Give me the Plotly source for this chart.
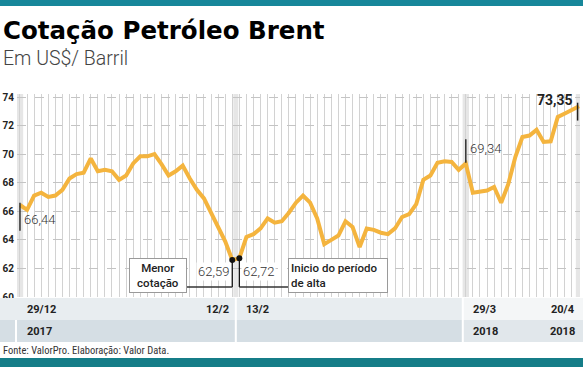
import plotly.graph_objects as go

# ---- data ----
values = [66.44, 66.1, 67.1, 67.3, 67.0, 67.1, 67.5, 68.3, 68.6, 68.7,
          69.7, 68.8, 68.9, 68.8, 68.2, 68.5, 69.35, 69.85, 69.85, 70.0,
          69.3, 68.5, 68.8, 69.2, 68.3, 67.5, 66.9, 65.9, 64.9, 63.9,
          62.59, 62.72, 64.2, 64.4, 64.8, 65.5, 65.2, 65.3, 65.9, 66.6,
          67.1, 66.6, 65.5, 63.7, 64.0, 64.3, 65.3, 64.9, 63.5, 64.8,
          64.7, 64.5, 64.4, 64.8, 65.6, 65.8, 66.5, 68.2, 68.5, 69.4,
          69.5, 69.45, 68.9, 69.34, 67.3, 67.35, 67.45, 67.7, 66.6, 67.9,
          69.8, 71.2, 71.3, 71.7, 70.85, 70.9, 72.6, 72.85, 73.1, 73.35]
idx = list(range(len(values)))

label_idx = [0, 30, 31, 63, 79]
label_text = ["29/12", "12/2", "13/2", "29/3", "20/4"]
year_idx = [0, 63, 79]
year_text = ["2017", "2018", "2018"]
y_ticks = [60, 62, 64, 66, 68, 70, 72, 74]

W, H = 583, 367
L, R, T, B = 17, 580, 94, 297
YMIN, YMAX = 60, 74.21
XMIN, XMAX = -0.42, 79.14

def px_to_paper(px):
    return (px - L) / (R - L)

def py_to_paper(py):
    return (B - py) / (B - T)

def px_to_x(px):
    return XMIN + (px - L) / (R - L) * (XMAX - XMIN)

def py_to_y(py):
    return YMIN + (B - py) / (B - T) * (YMAX - YMIN)

def x_to_px(x):
    return L + (x - XMIN) / (XMAX - XMIN) * (R - L)

LINE = "#F4B43E"
TEAL = "#17879a"

fig = go.Figure()

shapes = []
# highlighted columns
for i in [0, 30.5, 63, 79]:
    w = 0.45 if i != 30.5 else 0.35
    shapes.append(dict(type="rect", xref="x", yref="paper", x0=i - w, x1=i + w,
                       y0=0, y1=1, fillcolor="#e6e6e6", line_width=0, layer="below"))

# top/bottom teal bars
shapes.append(dict(type="rect", xref="paper", yref="paper",
                   x0=px_to_paper(0), x1=px_to_paper(W), y0=py_to_paper(6), y1=py_to_paper(0),
                   fillcolor=TEAL, line_width=0))
shapes.append(dict(type="rect", xref="paper", yref="paper",
                   x0=px_to_paper(0), x1=px_to_paper(W), y0=py_to_paper(367), y1=py_to_paper(358),
                   fillcolor="#157d88", line_width=0))

# bottom rows
sep1 = x_to_px(30.5)
sep2 = x_to_px(63) - 3
rows = [
    (298, 320, [(0, sep2, "#e8edf0"), (sep2, W, "#f4f6f7")]),
    (320, 342, [(0, sep2, "#d5dee4"), (sep2, W, "#e1e7eb")]),
]
for y0, y1, segs in rows:
    for a, b, c in segs:
        shapes.append(dict(type="rect", xref="paper", yref="paper",
                           x0=px_to_paper(a), x1=px_to_paper(b),
                           y0=py_to_paper(y1), y1=py_to_paper(y0),
                           fillcolor=c, line_width=0))
for sx, top in [(16, 320), (sep1, 298), (sep2, 298)]:
    shapes.append(dict(type="line", xref="paper", yref="paper",
                       x0=px_to_paper(sx), x1=px_to_paper(sx),
                       y0=py_to_paper(342), y1=py_to_paper(top),
                       line=dict(color="white", width=2)))

# leader lines
low_y = py_to_y(287)
box1_right = px_to_x(186)
box2_left = px_to_x(288)
shapes += [
    dict(type="line", xref="x", yref="y", x0=30, x1=30, y0=values[30], y1=low_y,
         line=dict(color="#111", width=1.3)),
    dict(type="line", xref="x", yref="y", x0=box1_right, x1=30, y0=low_y, y1=low_y,
         line=dict(color="#333", width=1.3)),
    dict(type="line", xref="x", yref="y", x0=31, x1=31, y0=values[31], y1=low_y,
         line=dict(color="#111", width=1.3)),
    dict(type="line", xref="x", yref="y", x0=31, x1=box2_left, y0=low_y, y1=low_y,
         line=dict(color="#333", width=1.3)),
    # value markers
    dict(type="line", xref="x", yref="y", x0=0, x1=0, y0=values[0] + 0.15, y1=values[0] - 1.8,
         line=dict(color="#333", width=1.5)),
    dict(type="line", xref="x", yref="y", x0=63, x1=63, y0=values[63] + 1.7, y1=values[63] + 0.05,
         line=dict(color="#333", width=1.5)),
    dict(type="line", xref="x", yref="y", x0=79 - 0.2, x1=79 - 0.2, y0=values[79] + 0.25,
         y1=values[79] - 1.0, line=dict(color="#222", width=1.5)),
]

fig.add_trace(go.Scatter(x=idx, y=values, mode="lines",
                         line=dict(color=LINE, width=4), hoverinfo="skip"))
fig.add_trace(go.Scatter(x=[30, 31], y=[values[30], values[31]], mode="markers",
                         marker=dict(color="#111", size=6), hoverinfo="skip"))

ann = []
FONT = "Roboto"
# title & subtitle
ann.append(dict(text="<b>Cotação Petróleo Brent</b>", xref="paper", yref="paper",
                x=px_to_paper(1), y=py_to_paper(47), xanchor="left", yanchor="bottom",
                showarrow=False, font=dict(family="DejaVu Sans", size=24.5, color="#000", weight=900)))
ann.append(dict(text="Em US$/ Barril", xref="paper", yref="paper",
                x=px_to_paper(1), y=py_to_paper(72), xanchor="left", yanchor="bottom",
                showarrow=False, font=dict(family="Roboto", size=19.5, color="#444", weight=300)))
# value labels
vfont = dict(family=FONT, size=13, color="#333", weight=300)
ann.append(dict(text="66,44", x=0.3, y=values[0] - 1.0, xref="x", yref="y", xanchor="left",
                yanchor="middle", showarrow=False, font=vfont))
ann.append(dict(text="69,34", x=63.3, y=values[63] + 1.05, xref="x", yref="y", xanchor="left",
                yanchor="middle", showarrow=False, font=vfont))
ann.append(dict(text="<b>73,35</b>", x=78.4, y=values[79] + 0.42, xref="x", yref="y",
                xanchor="right", yanchor="middle", showarrow=False,
                font=dict(family=FONT, size=14, color="#222")))
ann.append(dict(text="62,59", x=29.8, y=py_to_y(271), xref="x", yref="y", xanchor="right",
                yanchor="middle", showarrow=False, font=vfont, bgcolor="white"))
ann.append(dict(text="62,72", x=31.3, y=py_to_y(271), xref="x", yref="y", xanchor="left",
                yanchor="middle", showarrow=False, font=vfont, bgcolor="white"))
# boxes
bfont = dict(family=FONT, size=11.5, color="#222", weight=500)
ann.append(dict(text="Menor<br>cotação", xref="paper", yref="paper",
                x=px_to_paper(157.5), y=py_to_paper(275), xanchor="center", yanchor="middle",
                showarrow=False, align="center", font=bfont, bgcolor="white",
                bordercolor="#9a9a9a", borderwidth=1, borderpad=2, width=52))
ann.append(dict(text="Inicio do período<br>de alta", xref="paper", yref="paper",
                x=px_to_paper(288), y=py_to_paper(275), xanchor="left", yanchor="middle",
                showarrow=False, align="left", font=bfont, bgcolor="white",
                bordercolor="#9a9a9a", borderwidth=1, borderpad=2, width=94))
# date & year labels
lfont = dict(family=FONT, size=11, color="#222", weight=700)
for i, t in zip(label_idx, label_text):
    right = t in ("12/2", "20/4")
    xa = i - 0.25 if right else i + 0.7
    ann.append(dict(text=t, x=xa, xref="x", yref="paper", y=py_to_paper(309),
                    xanchor="right" if right else "left", yanchor="middle",
                    showarrow=False, font=lfont))
for i, t in zip(year_idx, year_text):
    right = i == 79
    ann.append(dict(text=t, x=(i - 0.25) if right else (i + 0.7), xref="x", yref="paper",
                    y=py_to_paper(331), xanchor="right" if right else "left",
                    yanchor="middle", showarrow=False, font=lfont))
ann.append(dict(text="Fonte: ValorPro. Elaboração: Valor Data.", xref="paper", yref="paper",
                x=px_to_paper(1), y=py_to_paper(350), xanchor="left", yanchor="middle",
                showarrow=False, font=dict(family="Roboto Condensed, Liberation Sans Narrow, Roboto",
                                           size=10.5, color="#333")))

fig.update_layout(
    width=W, height=H,
    margin=dict(l=L, r=W - R, t=T, b=H - B, pad=0),
    paper_bgcolor="white", plot_bgcolor="white",
    showlegend=False,
    shapes=shapes, annotations=ann,
    xaxis=dict(range=[XMIN, XMAX], showticklabels=False, tick0=0, dtick=1,
               showgrid=True, gridcolor="#d2d2d2", gridwidth=1.3, zeroline=False,
               showline=False, fixedrange=True),
    yaxis=dict(range=[YMIN, YMAX], tickvals=y_ticks, ticktext=[str(v) for v in y_ticks],
               showgrid=True, gridcolor="#c4c4c4", griddash="dash", gridwidth=1,
               zeroline=False, showline=False, ticks="", ticklabelstandoff=2,
               tickfont=dict(family=FONT, size=10, color="#222", weight=700),
               fixedrange=True),
)

fig.write_html("out.html", config={"displayModeBar": False},
               post_script="document.body.style.margin='0';document.body.style.padding='0';")
